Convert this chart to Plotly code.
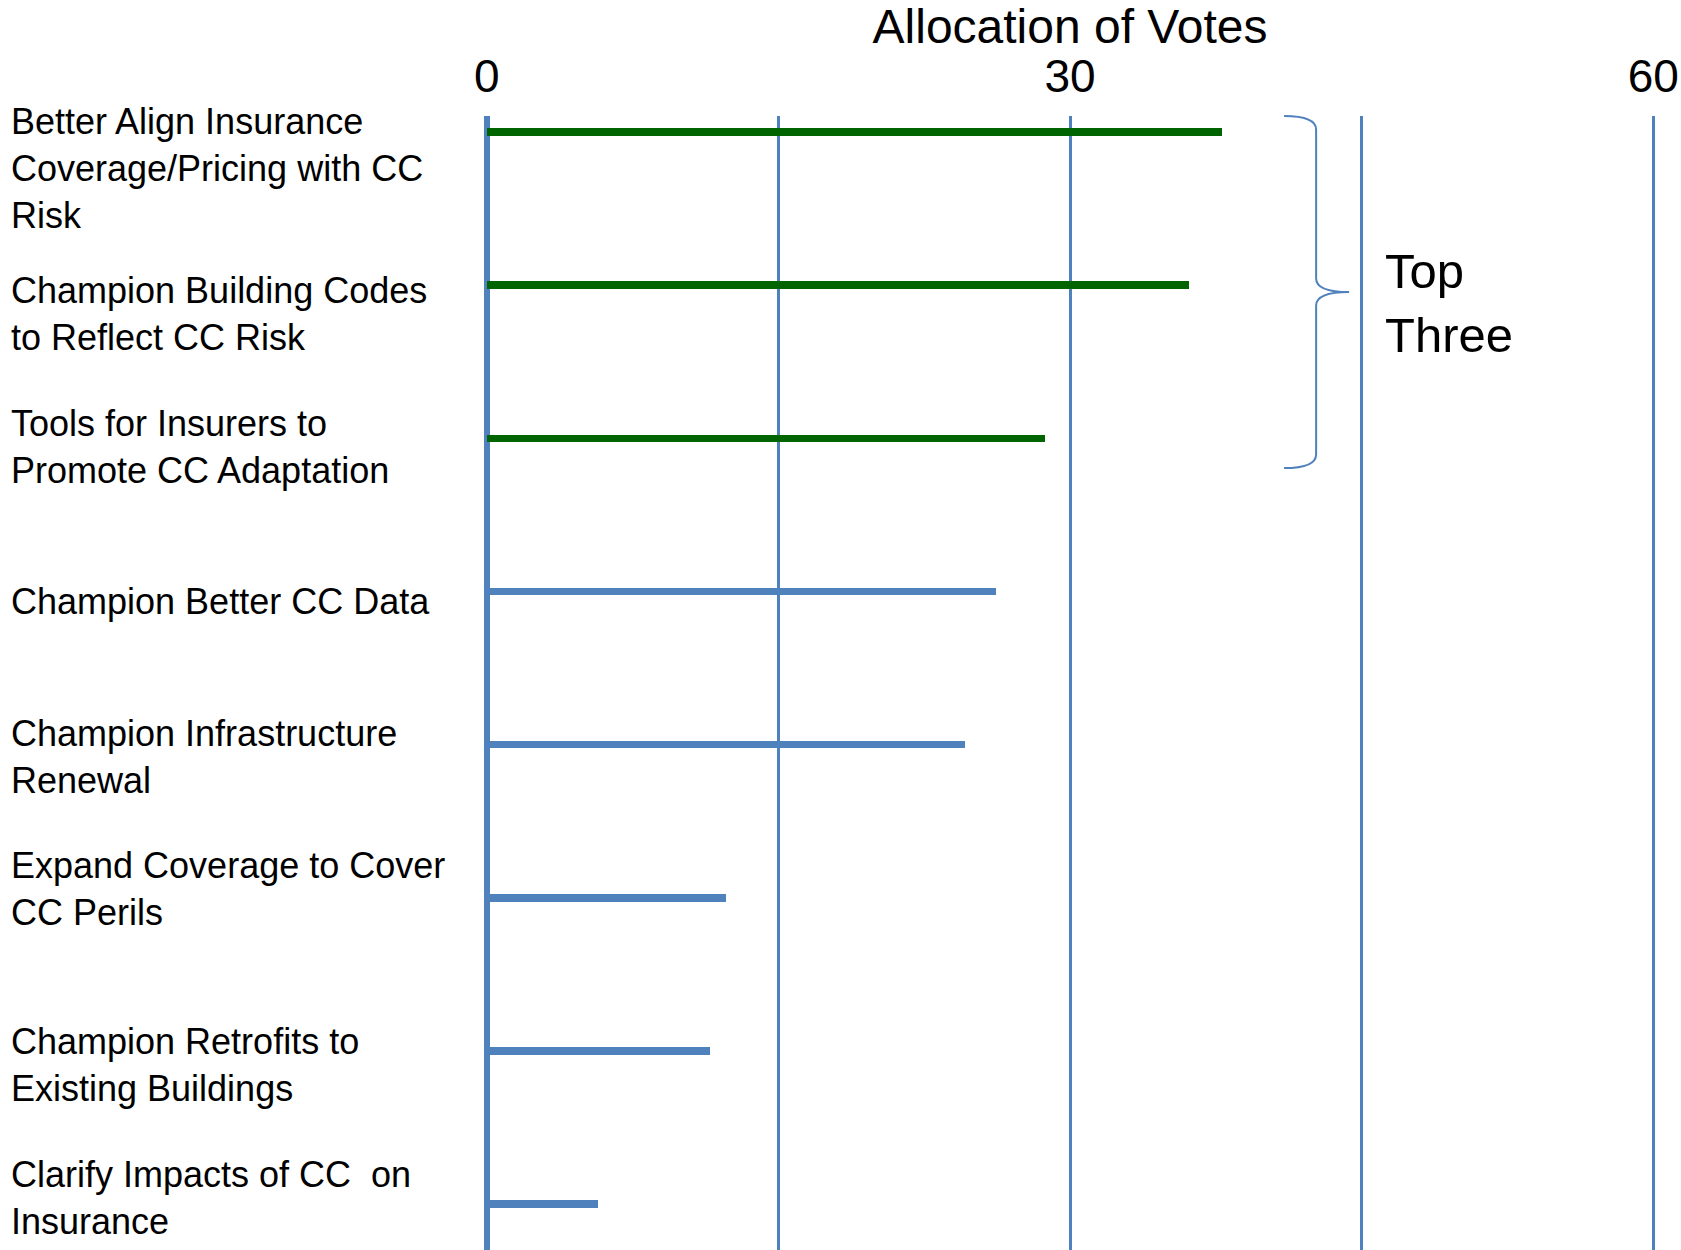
import plotly.graph_objects as go

# ---- data ----
categories = [
    "Better Align Insurance Coverage/Pricing with CC Risk",
    "Champion Building Codes to Reflect CC Risk",
    "Tools for Insurers to Promote CC Adaptation",
    "Champion Better CC Data",
    "Champion Infrastructure Renewal",
    "Expand Coverage to Cover CC Perils",
    "Champion Retrofits to Existing Buildings",
    "Clarify Impacts of CC on Insurance",
]
label_texts = [
    "Better Align Insurance<br>Coverage/Pricing with CC<br>Risk",
    "Champion Building Codes<br>to Reflect CC Risk",
    "Tools for Insurers to<br>Promote CC Adaptation",
    "Champion Better CC Data",
    "Champion Infrastructure<br>Renewal",
    "Expand Coverage to Cover<br>CC Perils",
    "Champion Retrofits to<br>Existing Buildings",
    "Clarify Impacts of CC&nbsp; on<br>Insurance",
]
votes = [37.8, 36.1, 28.7, 26.2, 24.6, 12.3, 11.5, 5.7]
top_three = [True, True, True, False, False, False, False, False]
tick_values = [0, 15, 30, 45, 60]
tick_labels = ["0", "", "30", "", "60"]
axis_title = "Allocation of Votes"
brace_text = "Top<br>Three"

# ---- styles ----
GREEN = "#006400"
BLUE = "#4F81BD"
FONT = "Liberation Sans, Arial, sans-serif"
W, H = 1681, 1250
ML, MR, MT, MB = 477, 18, 116, 0
PW = W - ML - MR
PH = H - MT - MB

colors = [GREEN if t else BLUE for t in top_three]

fig = go.Figure()
fig.add_trace(go.Bar(
    x=votes, y=categories, orientation="h",
    width=0.05, marker=dict(color=colors, line=dict(width=0)),
    hoverinfo="x+y", showlegend=False,
))

# category labels, left aligned
label_shift = [-36, -29, -9, -10, -12, 9, -14, 6]
for cat, txt, dy in zip(categories, label_texts, label_shift):
    fig.add_annotation(
        x=(9 - ML) / PW, xref="paper", xanchor="left",
        y=cat, yref="y", yanchor="middle", yshift=dy,
        text=txt, align="left", showarrow=False,
        font=dict(family=FONT, size=36, color="black"),
    )

# brace around top three (x in data units, y in paper units)
def py(p):
    return (H - MB - p) / PH

def px(p):
    return (p - 487) / ((1653 - 487) / 60)

x0, xm, xt = px(1284), px(1316), px(1349)
yt, ym, yb = py(116), py(292), py(468)
d = 0.012
path = (
    f"M {x0},{yt} Q {xm},{yt} {xm},{yt - d} "
    f"L {xm},{ym + d} Q {xm},{ym} {xt},{ym} "
    f"Q {xm},{ym} {xm},{ym - d} "
    f"L {xm},{yb + d} Q {xm},{yb} {x0},{yb}"
)
fig.add_shape(type="path", path=path, xref="x", yref="paper",
              line=dict(color=BLUE, width=2))

fig.add_annotation(
    x=(1383 - ML) / PW, xref="paper", xanchor="left",
    y=py(303), yref="paper", yanchor="middle",
    text=brace_text, align="left", showarrow=False,
    font=dict(family=FONT, size=49, color="black"),
)

fig.update_layout(
    width=W, height=H,
    margin=dict(l=ML, r=MR, t=MT, b=MB, pad=0),
    paper_bgcolor="white", plot_bgcolor="white",
    font=dict(family=FONT, color="black"),
    bargap=0,
    xaxis=dict(
        side="top", range=[-0.5, 60.5],
        tickmode="array", tickvals=tick_values, ticktext=tick_labels,
        tickfont=dict(family=FONT, size=46, color="black"),
        ticks="", ticklabelstandoff=14,
        showgrid=True, gridcolor=BLUE, gridwidth=2.5,
        zeroline=True, zerolinecolor=BLUE, zerolinewidth=6,
        showline=False, fixedrange=True,
        title=dict(text=axis_title, font=dict(family=FONT, size=48, color="black"), standoff=0),
    ),
    yaxis=dict(
        type="category", categoryorder="array", categoryarray=categories,
        range=[7.30, -0.105], showticklabels=False, showgrid=False,
        zeroline=False, showline=False, ticks="", fixedrange=True,
    ),
)

fig.write_html("out.html")
